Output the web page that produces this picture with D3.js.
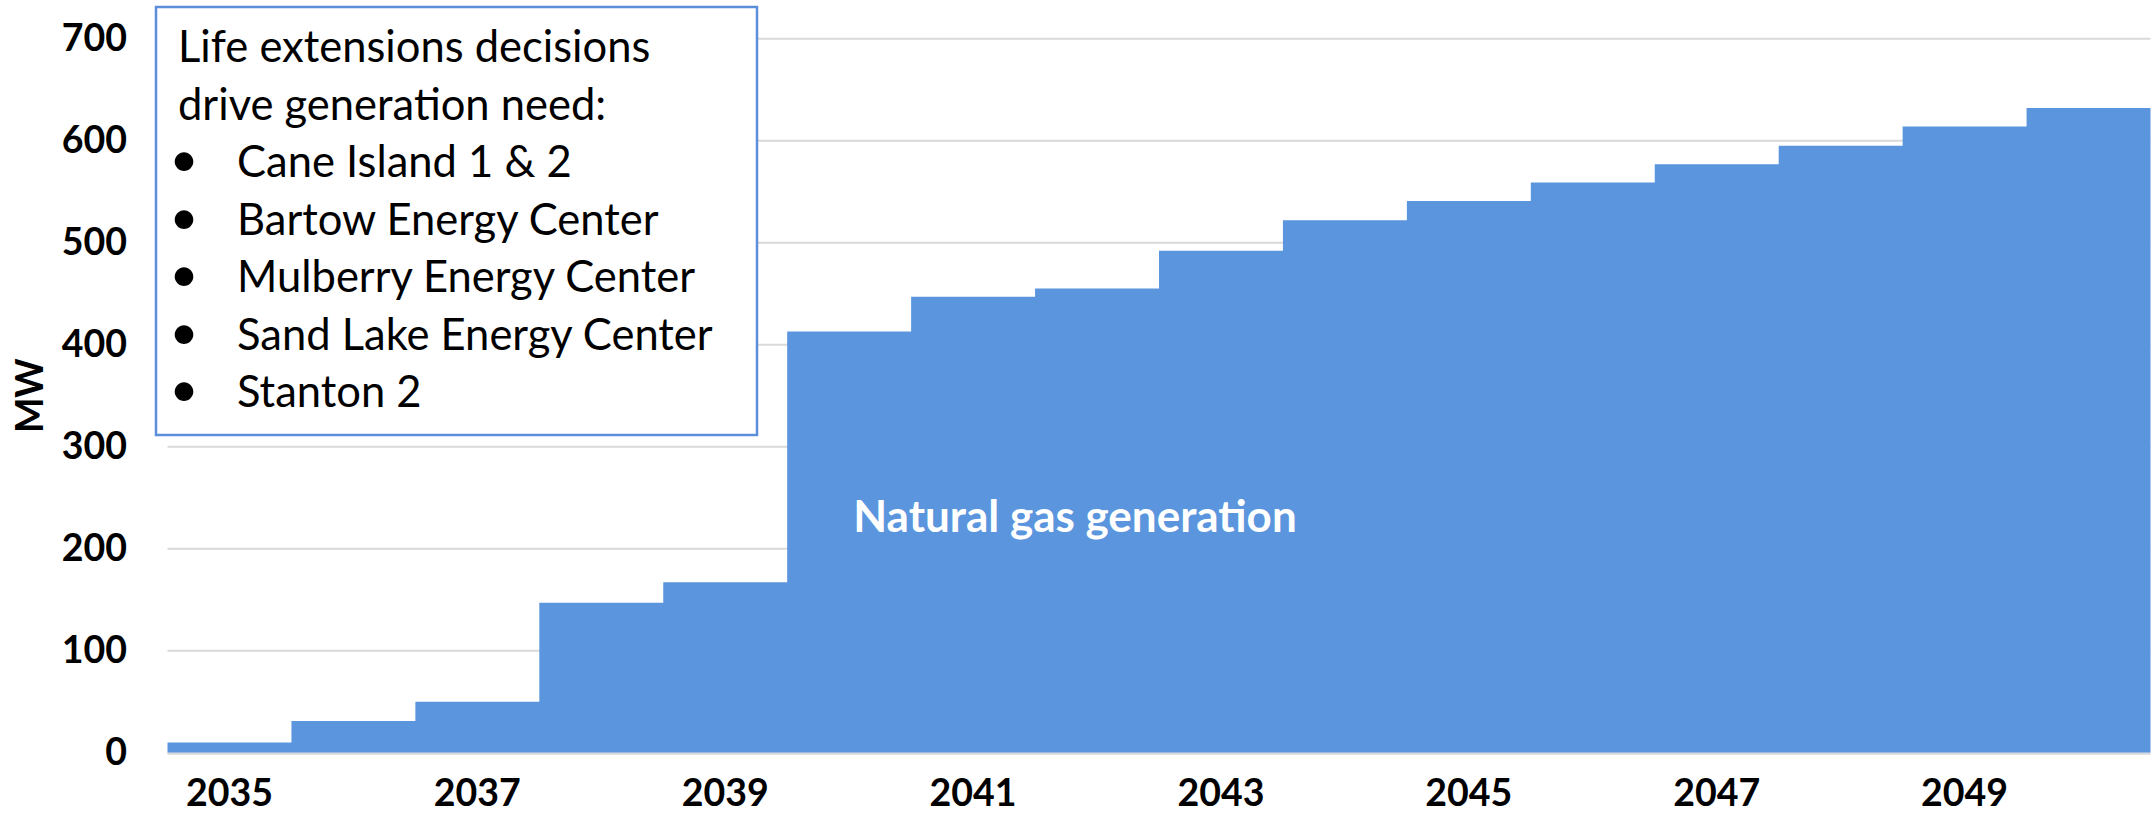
<!DOCTYPE html>
<html>
<head>
<meta charset="utf-8">
<script src="https://cdn.jsdelivr.net/npm/d3@7/dist/d3.min.js"></script>
<style>
  html, body { margin: 0; padding: 0; background: #ffffff; }
  svg { display: block; }
</style>
</head>
<body>
<svg id="chart" width="2153" height="813"></svg>
<script>
// ---- data ----
const years = [2035, 2036, 2037, 2038, 2039, 2040, 2041, 2042, 2043, 2044, 2045, 2046, 2047, 2048, 2049, 2050];
const gasMW = [10, 31, 50, 147, 167, 413, 447, 455, 492, 522, 541, 559, 577, 595, 614, 632];
const yTicks = [0, 100, 200, 300, 400, 500, 600, 700];
const xTickLabels = [2035, 2037, 2039, 2041, 2043, 2045, 2047, 2049];
const yAxisTitle = "MW";
const areaLabel = "Natural gas generation";
const noteTitle = ["Life extensions decisions", "drive generation need:"];
const noteBullets = ["Cane Island 1 & 2", "Bartow Energy Center", "Mulberry Energy Center", "Sand Lake Energy Center", "Stanton 2"];

// ---- layout ----
const W = 2153, H = 813;
const m = { left: 167.5, right: 2150.5, top: 38.7, bottom: 752.7 };
const fill = "#5a95dd";
const font = "Lato, 'Open Sans', sans-serif";

const svg = d3.select("#chart");

const x = d3.scaleBand().domain(years).range([m.left, m.right]).padding(0);
const y = d3.scaleLinear().domain([0, 700]).range([m.bottom, m.top]);

// gridlines
svg.append("g").selectAll("line").data(yTicks.filter(d => d > 0)).join("line")
  .attr("x1", m.left).attr("x2", m.right)
  .attr("y1", d => y(d)).attr("y2", d => y(d))
  .attr("stroke", "#d9d9d9").attr("stroke-width", 2);

// step area
const pts = years.map((yr, i) => ({ x: x(yr), v: gasMW[i] }));
pts.push({ x: x(years[years.length - 1]) + x.bandwidth(), v: gasMW[gasMW.length - 1] });
const area = d3.area()
  .x(d => d.x)
  .y0(y(0))
  .y1(d => y(d.v))
  .curve(d3.curveStepAfter);
svg.append("path").datum(pts).attr("d", area).attr("fill", fill);

// zero line
svg.append("line")
  .attr("x1", m.left).attr("x2", m.right)
  .attr("y1", y(0) + 1).attr("y2", y(0) + 1)
  .attr("stroke", "#d9d9d9").attr("stroke-width", 2);

// y axis
const yAxis = d3.axisLeft(y).tickValues(yTicks).tickSize(0).tickPadding(0);
const gy = svg.append("g").attr("transform", "translate(127,0)").call(yAxis);
gy.select(".domain").remove();
gy.selectAll("text")
  .attr("font-family", font).attr("font-weight", 700).attr("font-size", 37.5)
  .attr("fill", "#000");

// x axis
const xAxis = d3.axisBottom(x).tickValues(xTickLabels).tickSize(0).tickPadding(27);
const gx = svg.append("g").attr("transform", `translate(0,${m.bottom})`).call(xAxis);
gx.select(".domain").remove();
gx.selectAll("text")
  .attr("font-family", font).attr("font-weight", 700).attr("font-size", 37.5)
  .attr("fill", "#000");

// y title
svg.append("text")
  .attr("transform", `translate(43,${(m.top + m.bottom) / 2}) rotate(-90)`)
  .attr("text-anchor", "middle")
  .attr("font-family", font).attr("font-weight", 700).attr("font-size", 37.5)
  .text(yAxisTitle);

// area label
svg.append("text")
  .attr("x", 1075).attr("y", 531.7)
  .attr("text-anchor", "middle")
  .attr("font-family", font).attr("font-weight", 700).attr("font-size", 44)
  .attr("fill", "#ffffff")
  .text(areaLabel);

// note box
svg.append("rect")
  .attr("x", 156).attr("y", 7).attr("width", 601).attr("height", 428)
  .attr("fill", "#ffffff").attr("stroke", "#5b8fd9").attr("stroke-width", 2.5);

const lineStep = 57.5, firstBase = 62;
const note = svg.append("g").attr("font-family", font).attr("font-size", 43.5).attr("fill", "#000");
noteTitle.forEach((t, i) => {
  note.append("text").attr("x", 178).attr("y", firstBase + i * lineStep).text(t);
});
noteBullets.forEach((t, i) => {
  const by = firstBase + (i + 2) * lineStep;
  note.append("text").attr("x", 184).attr("y", by).attr("text-anchor", "middle").attr("font-size", 50).text("•");
  note.append("text").attr("x", 237).attr("y", by).text(t);
});
</script>
</body>
</html>
